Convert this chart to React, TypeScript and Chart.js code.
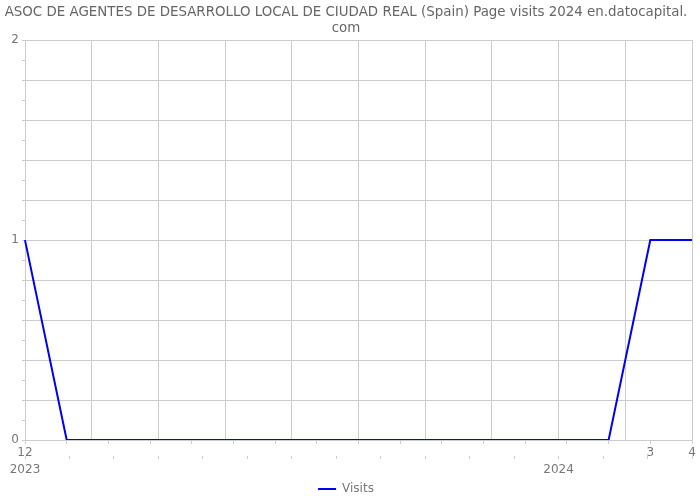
import React, { useEffect, useRef } from "react";
import { Chart, registerables } from "chart.js";

Chart.register(...registerables);

const titleLines = [
  "ASOC DE AGENTES DE DESARROLLO LOCAL DE CIUDAD REAL (Spain) Page visits 2024 en.datocapital.",
  "com",
];
const seriesName = "Visits";
const visits = [1, 0, 0, 0, 0, 0, 0, 0, 0, 0, 0, 0, 0, 0, 0, 1, 1];
const xTickLabels = ["12", "", "", "", "", "", "", "", "", "", "", "", "", "", "", "3", "4"];
const yearLabels = ["2023", "", "", "", "", "", "", "", "", "", "", "", "2024", "", "", ""];
const gridLabels = ["", "", "", "", "", "", "", "", "", "", ""];
const yMin = 0;
const yMax = 2;
const yLabelValues = [0, 1, 2];

const FONT = "'DejaVu Sans', sans-serif";
const GRID = "#cccccc";
const TEXT = "#777777";

export default function App() {
  const ref = useRef<HTMLCanvasElement | null>(null);
  useEffect(() => {
    if (!ref.current) return;
    const chart = new Chart(ref.current, {
      type: "line",
      data: {
        labels: xTickLabels,
        datasets: [
          {
            label: seriesName,
            data: visits,
            borderColor: "#0000ee",
            backgroundColor: "#0000ee",
            borderWidth: 2,
            pointRadius: 0,
            tension: 0,
            xAxisID: "x",
          },
        ],
      },
      options: {
        animation: false,
        responsive: true,
        maintainAspectRatio: false,
        layout: { padding: { left: 0, right: 8, top: 0, bottom: -5 } },
        plugins: {
          title: {
            display: true,
            text: titleLines,
            color: "#666666",
            font: { family: FONT, size: 13.4, weight: "normal", lineHeight: 1.2 },
            padding: { top: 4, bottom: 4 },
          },
          legend: {
            display: true,
            position: "bottom",
            labels: {
              usePointStyle: true,
              pointStyle: "line",
              pointStyleWidth: 18,
              color: TEXT,
              padding: 7,
              font: { family: FONT, size: 12 },
            },
          },
          tooltip: { enabled: false },
        },
        scales: {
          x: {
            type: "category",
            offset: false,
            position: "bottom",
            weight: 1,
            grid: { display: true, drawOnChartArea: false, drawTicks: true, tickLength: 4, color: GRID },
            border: { display: true, color: GRID },
            ticks: {
              autoSkip: false,
              maxRotation: 0,
              color: TEXT,
              padding: 2,
              font: { family: FONT, size: 12 },
            },
            afterFit: (s: any) => {
              s.height = 16;
            },
          },
          xgrid: {
            type: "category",
            labels: gridLabels,
            offset: false,
            position: "bottom",
            weight: 0,
            grid: { display: true, drawOnChartArea: true, drawTicks: false, color: GRID },
            border: { display: true, color: GRID },
            ticks: { display: false, autoSkip: false },
            afterFit: (s: any) => {
              s.height = 0;
            },
          },
          xyear: {
            type: "category",
            labels: yearLabels,
            offset: false,
            position: "bottom",
            weight: 2,
            grid: { display: true, drawOnChartArea: false, drawTicks: true, tickLength: 3, color: GRID },
            border: { display: false },
            ticks: {
              autoSkip: false,
              maxRotation: 0,
              color: TEXT,
              padding: 4,
              font: { family: FONT, size: 12 },
            },
            afterFit: (s: any) => {
              s.height = 20;
            },
          },
          y: {
            type: "linear",
            min: yMin,
            max: yMax,
            grid: {
              display: true,
              drawTicks: true,
              tickLength: 3,
              color: (ctx: any) => {
                const v = ctx.tick ? Math.round(ctx.tick.value * 10) : 0;
                return v % 2 === 0 ? GRID : "rgba(0,0,0,0)";
              },
              tickColor: GRID,
            },
            border: { display: true, color: GRID },
            afterBuildTicks: (s: any) => {
              const t = [];
              for (let i = 0; i <= 20; i++) t.push({ value: yMin + (i * (yMax - yMin)) / 20 });
              s.ticks = t;
            },
            ticks: {
              autoSkip: false,
              color: TEXT,
              padding: 3,
              font: { family: FONT, size: 12 },
              callback: (v: any) => {
                const n = Number(v);
                return yLabelValues.some((y) => Math.abs(y - n) < 1e-6) ? String(Math.round(n)) : "";
              },
            },
            afterFit: (s: any) => {
              s.width = 25;
            },
          },
        },
      },
    });
    return () => chart.destroy();
  }, []);
  return (
    <div style={{ position: "absolute", left: 0, top: 0, width: 700, height: 500 }}>
      <canvas ref={ref} />
    </div>
  );
}
